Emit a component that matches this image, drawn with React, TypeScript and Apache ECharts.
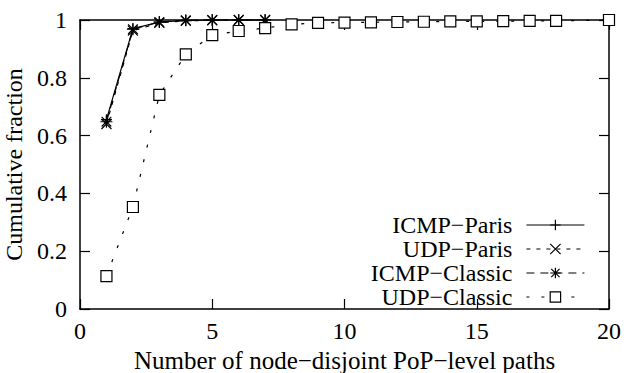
import React, { useEffect, useRef } from "react";
import * as echarts from "echarts";

const xPoints = [1, 2, 3, 4, 5, 6, 7];
const icmpParis = [0.655, 0.97, 0.993, 0.998, 1.0, 1.0, 1.0];
const udpParis = [0.64, 0.963, 0.99, 0.997, 0.999, 1.0, 1.0];
const icmpClassic = [0.648, 0.968, 0.993, 0.999, 1.0, 1.0, 1.0];
const udpClassicX = [1, 2, 3, 4, 5, 6, 7, 8, 9, 10, 11, 12, 13, 14, 15, 16, 17, 18, 20];
const udpClassic = [0.114, 0.353, 0.741, 0.881, 0.948, 0.962, 0.972, 0.985, 0.99, 0.991, 0.992, 0.993, 0.994, 0.995, 0.995, 0.996, 0.997, 0.997, 1.0];
const seriesNames = ["ICMP\u2212Paris", "UDP\u2212Paris", "ICMP\u2212Classic", "UDP\u2212Classic"];
const xTicks = [0, 5, 10, 15, 20];
const yTicks = [0, 0.2, 0.4, 0.6, 0.8, 1];

const FONT = "Liberation Serif";

const PLUS = "path://M0,5L10,5M5,0L5,10";
const CROSS = "path://M0,0L10,10M10,0L0,10";
const STAR = "path://M0,5L10,5M5,0L5,10M1,1L9,9M9,1L1,9";

export default function App() {
  const ref = useRef<HTMLDivElement>(null);
  useEffect(() => {
    if (!ref.current) return;
    const chart = echarts.init(ref.current, null, { renderer: "svg" });
    const pair = (xs: number[], ys: number[]) => xs.map((x, i) => [x, ys[i]]);
    const axisCommon = {
      type: "value" as const,
      axisLine: { show: true, onZero: false, lineStyle: { color: "#000", width: 1.5 } },
      axisTick: { show: true, inside: true, length: 10, lineStyle: { color: "#000", width: 1.2 } },
      splitLine: { show: false },
    };
    const mk = (name: string, data: number[][], symbol: string, dash: any, size: number, fill: string) => ({
      name,
      type: "line",
      data,
      symbol,
      symbolSize: size,
      showSymbol: true,
      clip: false,
      lineStyle: { color: "#000", width: 1.2, type: dash },
      itemStyle: { color: fill, borderColor: "#000", borderWidth: 1.2 },
      emphasis: { disabled: true },
    });
    chart.setOption({
      animation: false,
      grid: { left: 80, right: 19, top: 20, bottom: 64, containLabel: false, outerBoundsMode: "none" },
      xAxis: [
        {
          ...axisCommon,
          min: 0,
          max: 20,
          interval: 5,
          position: "bottom",
          name: "Number of node\u2212disjoint PoP\u2212level paths",
          nameLocation: "middle",
          nameGap: 38,
          nameTextStyle: { fontFamily: FONT, fontSize: 25, color: "#000" },
          axisLabel: {
            margin: 10,
            fontFamily: FONT,
            fontSize: 24,
            color: "#000",
            formatter: (v: number) => (xTicks.includes(v) ? String(v) : ""),
          },
        },
        {
          ...axisCommon,
          min: 0,
          max: 20,
          interval: 5,
          position: "top",
          axisLabel: { show: false },
        },
      ],
      yAxis: [
        {
          ...axisCommon,
          min: 0,
          max: 1,
          interval: 0.2,
          position: "left",
          name: "Cumulative fraction",
          nameLocation: "middle",
          nameGap: 39,
          nameTextStyle: { fontFamily: FONT, fontSize: 24, color: "#000" },
          axisLabel: {
            margin: 13,
            fontFamily: FONT,
            fontSize: 24,
            color: "#000",
            formatter: (v: number) => {
              const t = yTicks.find((y) => Math.abs(y - v) < 1e-9);
              return t === undefined ? "" : String(t);
            },
          },
        },
        {
          ...axisCommon,
          min: 0,
          max: 1,
          interval: 0.2,
          position: "right",
          axisLabel: { show: false },
        },
      ],
      legend: {
        orient: "vertical",
        align: "right",
        right: 38,
        top: 208,
        itemWidth: 58,
        itemHeight: 13,
        itemGap: 0,
        selectedMode: false,
        data: seriesNames,
        formatter: (n: string) => "{t|" + n + "}",
        textStyle: {
          fontFamily: FONT,
          fontSize: 24,
          color: "#000",
          rich: {
            t: { fontFamily: FONT, fontSize: 24, color: "#000", lineHeight: 19, height: 19, padding: [0, 9, 0, 0] },
          },
        },
        itemStyle: { borderWidth: 1.2 },
        lineStyle: { width: 1.2 },
      },
      series: [
        mk(seriesNames[0], pair(xPoints, icmpParis), PLUS, "solid", 11, "#000"),
        mk(seriesNames[1], pair(xPoints, udpParis), CROSS, [4, 6], 10, "#000"),
        mk(seriesNames[2], pair(xPoints, icmpClassic), STAR, [8, 6], 12, "#000"),
        mk(seriesNames[3], pair(udpClassicX, udpClassic), "rect", [3, 12], 11, "#fff"),
      ],
    });
    return () => chart.dispose();
  }, []);
  return (
    <div
      ref={ref}
      style={{ position: "fixed", left: 0, top: 0, width: 628, height: 373, background: "#fff" }}
    />
  );
}
